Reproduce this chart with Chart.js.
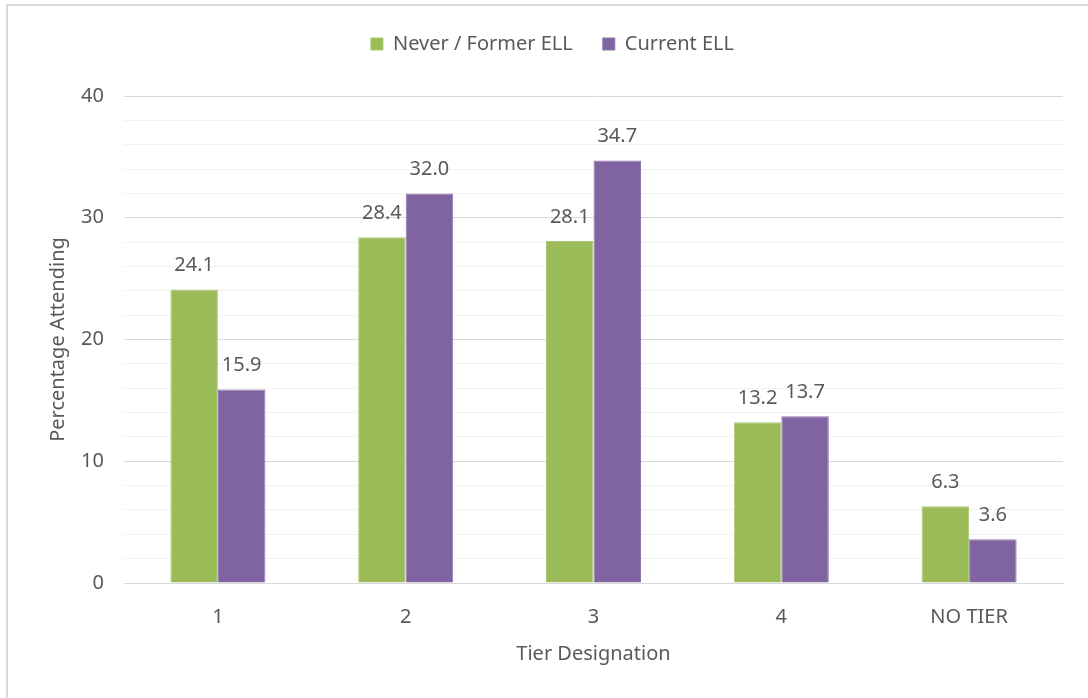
<!DOCTYPE html>
<html>
<head>
<meta charset="utf-8">
<script src="https://cdn.jsdelivr.net/npm/chart.js@4/dist/chart.umd.min.js"></script>
<style>
  html, body { margin: 0; padding: 0; background: #fff; }
  #frame { position: absolute; left: 6px; top: 4px; width: 1100px; height: 720px;
           border-left: 2px solid #d9d9d9; border-top: 2px solid #d9d9d9; box-sizing: border-box; }
  #wrap { position: absolute; left: 0; top: 0; width: 1088px; height: 698px; }
</style>
</head>
<body>
<div id="frame"></div>
<div id="wrap"><canvas id="c" width="1088" height="698"></canvas></div>
<script>
const tiers = ['1', '2', '3', '4', 'NO TIER'];
const neverFormerELL = [24.1, 28.4, 28.1, 13.2, 6.3];
const currentELL = [15.9, 32.0, 34.7, 13.7, 3.6];
const seriesNames = ['Never / Former ELL', 'Current ELL'];

const FONT = "'Noto Sans', 'Open Sans', sans-serif";
const SIZE = 20;
const TEXT = '#595959';

// Value labels centred above each bar
const barLabels = {
  id: 'barLabels',
  afterDatasetsDraw(chart) {
    const ctx = chart.ctx;
    ctx.save();
    ctx.font = SIZE + 'px ' + FONT;
    ctx.fillStyle = TEXT;
    ctx.textAlign = 'center';
    ctx.textBaseline = 'middle';
    chart.data.datasets.forEach((ds, i) => {
      chart.getDatasetMeta(i).data.forEach((el, j) => {
        ctx.fillText(ds.data[j].toFixed(1), el.x, el.y - 24);
      });
    });
    ctx.restore();
  }
};

// Give the legend a taller box so the plot starts lower
const legendSpace = {
  id: 'legendSpace',
  beforeLayout(chart) {
    const lg = chart.legend;
    if (lg && !lg._spaced) {
      const fit = lg.fit;
      lg.fit = function () { fit.call(this); this.height = 92; };
      lg._spaced = true;
    }
  }
};

new Chart(document.getElementById('c'), {
  type: 'bar',
  data: {
    labels: tiers,
    datasets: [
      { label: seriesNames[0], data: neverFormerELL, backgroundColor: '#9bbb59',
        borderColor: '#a9c870', borderWidth: 1 },
      { label: seriesNames[1], data: currentELL, backgroundColor: '#8064a2',
        borderColor: '#8f76ae', borderWidth: 1 }
    ]
  },
  options: {
    responsive: false,
    animation: false,
    layout: { padding: { left: 42, right: 25, top: 4, bottom: 28 } },
    datasets: { bar: { categoryPercentage: 0.506, barPercentage: 1 } },
    plugins: {
      legend: {
        position: 'top',
        labels: { font: { family: FONT, size: SIZE }, color: TEXT, boxWidth: 12, boxHeight: 12, padding: 30 }
      },
      tooltip: { enabled: false }
    },
    scales: {
      x: {
        grid: { display: false },
        border: { color: '#d9d9d9' },
        ticks: { font: { family: FONT, size: SIZE }, color: TEXT, padding: 14 },
        title: { display: true, text: 'Tier Designation', font: { family: FONT, size: SIZE }, color: TEXT, padding: { top: 8, bottom: 4 } },
        afterFit(s) { s.height = 87; }
      },
      y: {
        min: 0, max: 40,
        border: { display: false },
        grid: {
          drawTicks: false,
          color: (c) => (c.tick && c.tick.value % 10 === 0) ? '#d9d9d9' : '#f2f2f2'
        },
        ticks: {
          stepSize: 2, autoSkip: false,
          font: { family: FONT, size: SIZE }, color: TEXT, padding: 20,
          callback: (v) => (v % 10 === 0 ? v : '')
        },
        title: { display: true, text: 'Percentage Attending', font: { family: FONT, size: SIZE }, color: TEXT },
        afterFit(s) { s.width = 82; }
      }
    }
  },
  plugins: [barLabels, legendSpace]
});
</script>
</body>
</html>
